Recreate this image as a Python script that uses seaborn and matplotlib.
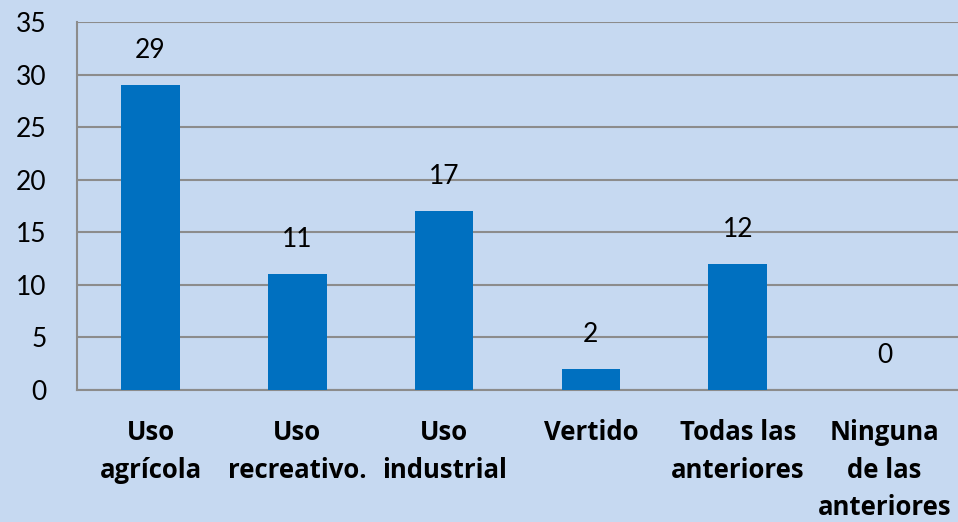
import matplotlib
matplotlib.use("Agg")
import matplotlib.pyplot as plt
import pandas as pd
import seaborn as sns

categories = [
    "Uso\nagrícola",
    "Uso\nrecreativo.",
    "Uso\nindustrial",
    "Vertido",
    "Todas las\nanteriores",
    "Ninguna\nde las\nanteriores",
]
values = [29, 11, 17, 2, 12, 0]
y_ticks = [0, 5, 10, 15, 20, 25, 30, 35]

BG = "#C6D9F1"
BAR = "#0070C0"
GRID = "#8C8C8C"


def main():
    sns.set_theme(style="white")
    plt.rcParams["font.family"] = ["Lato", "DejaVu Sans"]

    df = pd.DataFrame({"categoria": categories, "valor": values})

    fig = plt.figure(figsize=(9.58, 5.22), dpi=100, facecolor=BG)
    ax = fig.add_axes([0.0804, 0.2529, 0.9196, 0.705])
    ax.set_facecolor(BG)

    sns.barplot(data=df, x="categoria", y="valor", color=BAR, width=0.4,
                saturation=1, linewidth=0, edgecolor=BAR, ax=ax, zorder=3)

    ax.set_ylim(0, 35)
    ax.set_xlim(-0.5, len(categories) - 0.5)
    ax.set_yticks(y_ticks)
    ax.set_xticks(range(len(categories)), categories, fontsize=18.5,
                  fontweight="bold", family=["Open Sans", "DejaVu Sans"],
                  linespacing=1.5)
    ax.set_xlabel("")
    ax.set_ylabel("")

    # horizontal gridlines
    ax.yaxis.grid(True, color=GRID, linewidth=1.5, zorder=0)
    ax.set_axisbelow(True)

    for side in ["top", "right"]:
        ax.spines[side].set_visible(False)
    for side in ["left", "bottom"]:
        ax.spines[side].set_color(GRID)
        ax.spines[side].set_linewidth(1.5)

    ax.tick_params(axis="y", length=0, pad=22, labelsize=19, labelcolor="black")
    ax.tick_params(axis="x", length=0, pad=21, labelcolor="black")

    ax.bar_label(ax.containers[0], labels=[str(v) for v in values],
                 padding=16, fontsize=19, color="black")

    fig.savefig("out.png", dpi=100, facecolor=BG)


if __name__ == "__main__":
    main()
